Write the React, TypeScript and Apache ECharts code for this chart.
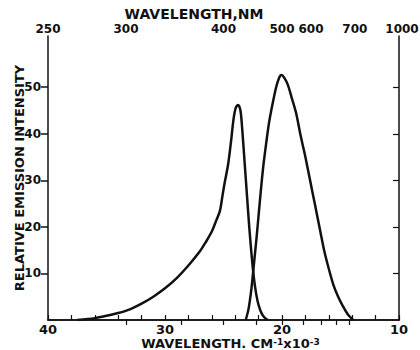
import React, { useEffect, useRef } from "react";
import * as echarts from "echarts";

// Wavenumber (cm^-1 x 10^-3) and relative intensity
const band1Wavenumber = [37.5, 36, 35, 34, 33, 32, 31, 30, 29, 28, 27, 26.5, 26, 25.6, 25.3, 25.1, 24.9, 24.6, 24.35, 24.15, 23.95, 23.75, 23.55, 23.4, 23.2, 23.0, 22.8, 22.6, 22.4, 22.2, 22.0, 21.7, 21.4, 21.2];
const band1Intensity = [0, 0.4, 0.9, 1.5, 2.3, 3.5, 5, 6.8, 9, 11.7, 14.8, 16.8, 19, 21.5, 23.5, 26.5, 29.5, 33.5, 38.5, 43, 45.6, 46.2, 45, 41, 34, 27, 20, 14, 9, 5.5, 3.2, 1.2, 0.3, 0];

const band2Wavenumber = [23.1, 22.85, 22.6, 22.4, 22.2, 22.0, 21.8, 21.6, 21.35, 21.1, 20.8, 20.5, 20.25, 20.05, 19.8, 19.5, 19.2, 18.8, 18.4, 18.0, 17.6, 17.2, 16.8, 16.4, 16.0, 15.6, 15.2, 14.8, 14.4, 14.0, 13.9];
const band2Intensity = [0, 2.5, 7, 12, 17, 22.5, 28, 33, 38, 42.5, 46.5, 50, 52, 52.6, 52, 50.5, 48, 44.5, 39.5, 35, 30, 25, 20, 15, 11, 7.5, 5, 3, 1.3, 0.2, 0];

const yTicks = [10, 20, 30, 40, 50];
const bottomTicks = [10, 12, 14, 16, 18, 20, 22, 24, 26, 28, 30, 32, 34, 36, 38, 40];
const bottomLabels = [40, 30, 20, 10];
const topTickNm = [300, 350, 400, 450, 500, 550, 600, 650, 700];
const topLabelNm = [250, 300, 400, 500, 600, 700, 1000];

const FONT = "DejaVu Sans";
const INK = "#111";

export default function App() {
  const ref = useRef<HTMLDivElement>(null);
  useEffect(() => {
    document.body.style.margin = "0";
    const chart = echarts.init(ref.current!, null, { renderer: "svg" });
    const toWn = (nm: number) => 10000 / nm;
    const base = { fontFamily: FONT, fontWeight: "bold", fontSize: 12, color: INK };
    const topRich = {
      n: { ...base },
      l: { ...base, padding: [0, 20, 0, 0] },
      r: { ...base, padding: [0, 0, 0, 12] },
      e: { ...base, padding: [0, 0, 0, 6] },
    };
    chart.setOption({
      animation: false,
      backgroundColor: "#fff",
      grid: { left: 48, right: 21, top: 36, bottom: 30, outerBoundsMode: "none", containLabel: false },
      graphic: [
        {
          type: "text",
          x: 194,
          y: 14,
          style: {
            text: "WAVELENGTH,NM",
            font: `bold 14px "${FONT}"`,
            fill: INK,
            textAlign: "center",
            textVerticalAlign: "middle",
          },
        },
      ],
      xAxis: [
        {
          type: "value",
          min: 10,
          max: 40,
          interval: 2,
          inverse: true,
          position: "bottom",
          splitLine: { show: false },
          axisLine: { show: true, lineStyle: { color: INK, width: 1.5 } },
          axisTick: { show: true, inside: false, length: -5, customValues: bottomTicks, lineStyle: { color: INK, width: 1.2 } },
          axisLabel: {
            show: true,
            customValues: bottomLabels,
            color: INK,
            fontFamily: FONT,
            fontWeight: "bold",
            fontSize: 13,
            margin: 3,
          },
          name: "{a|WAVELENGTH. CM}{s|-1}{a|x10}{s|-3}",
          nameLocation: "middle",
          nameMoveOverlap: false,
          nameGap: 17,
          nameTextStyle: {
            padding: [0, 0, 0, 14],
            rich: {
              a: { fontFamily: FONT, fontWeight: "bold", fontSize: 13, color: INK, lineHeight: 13 },
              s: { fontFamily: FONT, fontWeight: "bold", fontSize: 9, color: INK, verticalAlign: "top", lineHeight: 13, padding: [0, 0, 2, 0] },
            },
          },
        },
        {
          type: "value",
          min: 10,
          max: 40,
          inverse: true,
          position: "top",
          splitLine: { show: false },
          axisLine: { show: true, lineStyle: { color: INK, width: 1.5 } },
          axisTick: {
            show: true,
            inside: false,
            length: -5,
            customValues: topTickNm.map(toWn),
            lineStyle: { color: INK, width: 1.2 },
          },
          axisLabel: {
            show: true,
            customValues: topLabelNm.map(toWn),
            formatter: (v: number) => {
              const nm = Math.round(10000 / v);
              if (nm === 600) return `{l|${nm}}`;
              if (nm === 700) return `{r|${nm}}`;
              if (nm === 1000) return `{e|${nm}}`;
              return `{n|${nm}}`;
            },
            rich: topRich,
            margin: 1,
          },
        },
      ],
      yAxis: [
        {
          type: "value",
          min: 0,
          max: 61,
          position: "left",
          splitLine: { show: false },
          axisLine: { show: true, lineStyle: { color: INK, width: 1.5 } },
          axisTick: { show: true, customValues: yTicks, length: 7, lineStyle: { color: INK, width: 1.5 } },
          axisLabel: {
            show: true,
            customValues: yTicks,
            color: INK,
            fontFamily: FONT,
            fontWeight: "bold",
            fontSize: 12,
            margin: 7,
          },
          name: "RELATIVE EMISSION INTENSITY",
          nameLocation: "middle",
          nameRotate: 90,
          nameMoveOverlap: false,
          nameGap: 22,
          nameTextStyle: { fontFamily: FONT, fontWeight: "bold", fontSize: 13, color: INK },
        },
        {
          type: "value",
          min: 0,
          max: 61,
          position: "right",
          splitLine: { show: false },
          axisLine: { show: true, lineStyle: { color: INK, width: 1.5 } },
          axisTick: { show: true, inside: false, customValues: yTicks, length: -6, lineStyle: { color: INK, width: 1.2 } },
          axisLabel: { show: false },
        },
      ],
      series: [
        {
          type: "line",
          xAxisIndex: 0,
          yAxisIndex: 0,
          data: band1Wavenumber.map((x, i) => [x, band1Intensity[i]]),
          smooth: 0.3,
          showSymbol: false,
          lineStyle: { color: INK, width: 2.5 },
        },
        {
          type: "line",
          xAxisIndex: 0,
          yAxisIndex: 0,
          data: band2Wavenumber.map((x, i) => [x, band2Intensity[i]]),
          smooth: 0.3,
          showSymbol: false,
          lineStyle: { color: INK, width: 2.5 },
        },
      ],
    });
    return () => chart.dispose();
  }, []);
  return <div ref={ref} style={{ width: 420, height: 350 }} />;
}
